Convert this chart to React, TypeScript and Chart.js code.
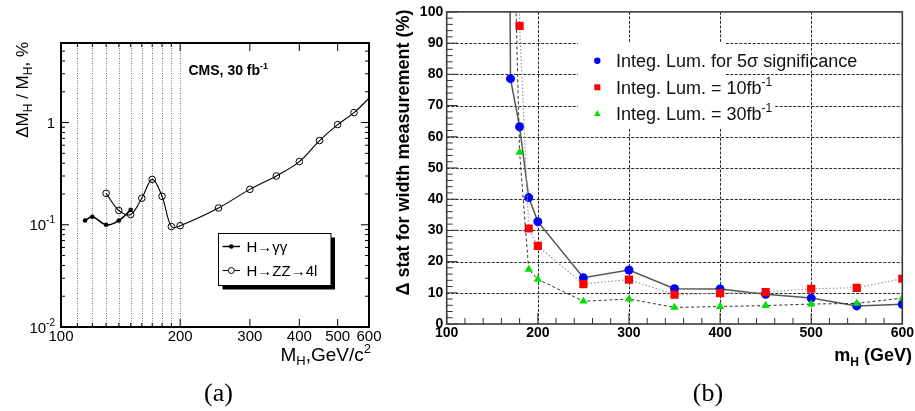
import { useEffect, useRef } from 'react';
import { Chart, registerables } from 'chart.js';
Chart.register(...registerables);

const FONT = '"Liberation Sans", Arial, Helvetica, sans-serif';
const SERIF = '"Liberation Serif", "Times New Roman", serif';

// ---------- Panel (a): mass resolution, log-log ----------
const A_GG_MASS = [115, 120, 130, 140, 150];
const A_GG_RES = [0.11, 0.12, 0.1, 0.11, 0.14];
const A_ZZ_MASS = [130, 140, 150, 160, 170, 180, 190, 200, 250, 300, 350, 400, 450, 500, 550, 600];
const A_ZZ_RES = [0.203, 0.138, 0.126, 0.182, 0.278, 0.19, 0.096, 0.098, 0.146, 0.222, 0.3, 0.415, 0.667, 0.955, 1.25, 1.73];
const A_X_TICKS = [100, 200, 300, 400, 500, 600];
const A_Y_TICKS = [0.01, 0.1, 1];
const A_Y_LABELS = [['10', '-2'], ['10', '-1'], ['1', '']];
const A_MASS_LINES = [110, 120, 130, 140, 150, 160, 170, 180, 190, 200];

// ---------- Panel (b): width measurement ----------
const B_X_TICKS = [100, 200, 300, 400, 500, 600];
const B_X_GRID = [200, 300, 400, 500];
const B_Y_GRID = [10, 20, 30, 40, 50, 60, 70, 80, 90];
const B_5SIG_MASS = [160, 170, 180, 190, 200, 250, 300, 350, 400, 450, 500, 550, 600];
const B_5SIG_VAL = [600, 78.6, 63.2, 40.5, 32.8, 14.8, 17.3, 11.3, 11.2, 9.5, 8.3, 5.8, 6.3];
const B_10FB_MASS = [170, 180, 190, 200, 250, 300, 350, 400, 450, 500, 550, 600];
const B_10FB_VAL = [1500, 95.5, 30.6, 25.0, 12.8, 14.2, 9.4, 9.9, 10.2, 11.3, 11.6, 14.5];
const B_30FB_MASS = [170, 180, 190, 200, 250, 300, 350, 400, 450, 500, 550, 600];
const B_30FB_VAL = [170, 55.0, 17.5, 14.3, 7.3, 8.0, 5.3, 5.6, 5.9, 6.4, 6.6, 8.3];

const BLUE = 'rgb(0,0,255)';
const RED = 'rgb(255,0,0)';
const GREEN = 'rgb(0,225,0)';

const zip = (xs: number[], ys: number[]) => xs.map((x, i) => ({ x, y: ys[i] }));

type Part = { t: string; f: string; dy?: number };
function drawRich(ctx: CanvasRenderingContext2D, parts: Part[], x: number, y: number, align: 'left' | 'right' | 'center') {
  let w = 0;
  for (const p of parts) { ctx.font = p.f; w += ctx.measureText(p.t).width; }
  let cx = align === 'left' ? x : align === 'right' ? x - w : x - w / 2;
  ctx.textAlign = 'left';
  ctx.textBaseline = 'alphabetic';
  for (const p of parts) {
    ctx.font = p.f;
    ctx.fillText(p.t, cx, y + (p.dy || 0));
    cx += ctx.measureText(p.t).width;
  }
}
function line(ctx: CanvasRenderingContext2D, x1: number, y1: number, x2: number, y2: number) {
  ctx.beginPath(); ctx.moveTo(x1, y1); ctx.lineTo(x2, y2); ctx.stroke();
}

const panelAPlugin = {
  id: 'panelA',
  beforeDatasetsDraw(chart: any) {
    const { ctx, chartArea: ca, scales } = chart;
    ctx.save();
    ctx.strokeStyle = '#777';
    ctx.lineWidth = 1;
    ctx.setLineDash([1, 1.5]);
    for (const v of A_MASS_LINES) {
      const px = Math.round(scales.x.getPixelForValue(v)) + 0.5;
      line(ctx, px, ca.top, px, ca.bottom);
    }
    ctx.restore();
  },
  afterDatasetsDraw(chart: any) {
    const { ctx, chartArea: ca, scales } = chart;
    const xs = scales.x, ys = scales.y;
    ctx.save();
    ctx.fillStyle = '#000';
    ctx.strokeStyle = '#000';
    ctx.lineWidth = 1;
    for (let k = -2; k <= 0; k++) {
      for (let m = 1; m <= 9; m++) {
        const v = m * Math.pow(10, k);
        if (v > 6.01) break;
        const py = ys.getPixelForValue(v);
        const len = m === 1 ? 8 : 4;
        line(ctx, ca.left, py, ca.left + len, py);
        line(ctx, ca.right - len, py, ca.right, py);
      }
    }
    for (const v of [110, 120, 130, 140, 150, 160, 170, 180, 190, 200, 300, 400, 500]) {
      const px = xs.getPixelForValue(v);
      const len = v % 100 === 0 ? 8 : 4;
      line(ctx, px, ca.bottom, px, ca.bottom - len);
      line(ctx, px, ca.top, px, ca.top + len);
    }
    ctx.lineWidth = 2;
    ctx.strokeRect(ca.left, ca.top, ca.right - ca.left, ca.bottom - ca.top);
    A_Y_TICKS.forEach((v, i) => {
      const py = ys.getPixelForValue(v);
      const [base, sup] = A_Y_LABELS[i];
      const parts: Part[] = [{ t: base, f: `15px ${FONT}` }];
      if (sup) parts.push({ t: sup, f: `10px ${FONT}`, dy: -7 });
      drawRich(ctx, parts, 55, py + 5.5, 'right');
    });
    drawRich(ctx, [{ t: 'CMS, 30 fb', f: `bold 14px ${FONT}` }, { t: '-1', f: `bold 9px ${FONT}`, dy: -6 }], 188.5, 75, 'left');
    const lx = 218.5, ly = 233.5, lw = 112.5, lh = 52;
    ctx.fillStyle = '#000';
    ctx.fillRect(lx + 4, ly + 4, lw, lh);
    ctx.fillStyle = '#fff';
    ctx.fillRect(lx, ly, lw, lh);
    ctx.lineWidth = 1;
    ctx.strokeStyle = '#000';
    ctx.strokeRect(lx, ly, lw, lh);
    ctx.fillStyle = '#000';
    const rows = [246.5, 270.5];
    ctx.lineWidth = 1.4;
    line(ctx, 222.5, rows[0], 240, rows[0]);
    ctx.beginPath(); ctx.arc(231.3, rows[0], 2.3, 0, Math.PI * 2); ctx.fill();
    ctx.lineWidth = 1;
    line(ctx, 222.5, rows[1], 240, rows[1]);
    ctx.fillStyle = '#fff';
    ctx.beginPath(); ctx.arc(231.3, rows[1], 3, 0, Math.PI * 2); ctx.fill(); ctx.stroke();
    ctx.fillStyle = '#000';
    drawRich(ctx, [{ t: 'H\u2192\u03b3\u03b3', f: `15px ${FONT}` }], 246.5, rows[0] + 5.5, 'left');
    drawRich(ctx, [{ t: 'H\u2192ZZ\u21924l', f: `15px ${FONT}` }], 246.5, rows[1] + 5.5, 'left');
    drawRich(ctx, [
      { t: 'M', f: `19px ${FONT}` }, { t: 'H', f: `13px ${FONT}`, dy: 4 },
      { t: ',GeV/c', f: `19px ${FONT}` }, { t: '2', f: `13px ${FONT}`, dy: -8 },
    ], 371, 361, 'right');
    ctx.save();
    ctx.translate(27.5, 42);
    ctx.rotate(-Math.PI / 2);
    drawRich(ctx, [
      { t: '\u0394M', f: `17px ${FONT}` }, { t: 'H', f: `12px ${FONT}`, dy: 4 },
      { t: ' / M', f: `17px ${FONT}` }, { t: 'H', f: `12px ${FONT}`, dy: 4 },
      { t: ', %', f: `17px ${FONT}` },
    ], 0, 0, 'right');
    ctx.restore();
    drawRich(ctx, [{ t: '(a)', f: `26px ${SERIF}` }], 218.5, 401, 'center');
    ctx.restore();
  },
};

const panelBPlugin = {
  id: 'panelB',
  beforeDatasetsDraw(chart: any) {
    const { ctx, chartArea: ca, scales } = chart;
    ctx.save();
    ctx.strokeStyle = '#2a2a2a';
    ctx.lineWidth = 1;
    ctx.setLineDash([3, 1.5]);
    for (const v of B_X_GRID) {
      const px = Math.round(scales.x.getPixelForValue(v)) + 0.5;
      line(ctx, px, ca.top, px, ca.bottom);
    }
    for (const v of B_Y_GRID) {
      const py = Math.round(scales.y.getPixelForValue(v)) + 0.5;
      line(ctx, ca.left, py, ca.right, py);
    }
    ctx.setLineDash([]);
    ctx.fillStyle = '#fff';
    ctx.fillRect(578 - 380, 42, 148, 86);
    ctx.fillRect(726 - 380, 97, 48, 12);
    ctx.restore();
  },
  afterDatasetsDraw(chart: any) {
    const { ctx, chartArea: ca, scales } = chart;
    const xs = scales.x, ys = scales.y;
    ctx.save();
    ctx.strokeStyle = '#333';
    ctx.lineWidth = 1;
    for (let v = 0; v <= 100; v += 2) {
      const py = ys.getPixelForValue(v);
      const len = v % 10 === 0 ? 11 : 6;
      line(ctx, ca.left, py, ca.left + len, py);
    }
    for (let v = 100; v <= 600; v += 20) {
      const px = xs.getPixelForValue(v);
      const len = v % 100 === 0 ? 11 : 6;
      line(ctx, px, ca.bottom, px, ca.bottom - len);
    }
    ctx.lineWidth = 1.6;
    ctx.strokeStyle = '#3a3a3a';
    ctx.strokeRect(ca.left, ca.top, ca.right - ca.left, ca.bottom - ca.top);
    const ox = -380;
    const mx = 597.3 + ox;
    const rows = [60.7, 87.3, 113.5];
    ctx.fillStyle = BLUE;
    ctx.beginPath(); ctx.arc(mx, rows[0], 3.2, 0, Math.PI * 2); ctx.fill();
    ctx.fillStyle = RED;
    ctx.fillRect(mx - 3, rows[1] - 3, 6, 6);
    ctx.fillStyle = GREEN;
    ctx.beginPath(); ctx.moveTo(mx, rows[2] - 3.5); ctx.lineTo(mx + 3.3, rows[2] + 2.5); ctx.lineTo(mx - 3.3, rows[2] + 2.5); ctx.closePath(); ctx.fill();
    ctx.fillStyle = '#111';
    const tx = 616 + ox;
    drawRich(ctx, [{ t: 'Integ. Lum. for 5\u03c3 significance', f: `18px ${FONT}` }], tx, rows[0] + 6.5, 'left');
    drawRich(ctx, [{ t: 'Integ. Lum. = 10fb', f: `18px ${FONT}` }, { t: '-1', f: `12px ${FONT}`, dy: -8 }], tx, rows[1] + 6.5, 'left');
    drawRich(ctx, [{ t: 'Integ. Lum. = 30fb', f: `18px ${FONT}` }, { t: '-1', f: `12px ${FONT}`, dy: -8 }], tx, rows[2] + 6.5, 'left');
    ctx.fillStyle = '#000';
    drawRich(ctx, [
      { t: 'm', f: `bold 18px ${FONT}` }, { t: 'H', f: `bold 12px ${FONT}`, dy: 5 },
      { t: ' (GeV)', f: `bold 18px ${FONT}` },
    ], 912 + ox, 361, 'right');
    ctx.save();
    ctx.translate(409 + ox, 9.5);
    ctx.rotate(-Math.PI / 2);
    drawRich(ctx, [{ t: '\u0394 stat for width measurement (%)', f: `bold 18px ${FONT}` }], 0, 0, 'right');
    ctx.restore();
    drawRich(ctx, [{ t: '(b)', f: `26px ${SERIF}` }], 708 + ox, 401, 'center');
    ctx.restore();
  },
};

function PanelA() {
  const ref = useRef<HTMLCanvasElement>(null);
  useEffect(() => {
    const chart = new Chart(ref.current as HTMLCanvasElement, {
      type: 'scatter',
      data: {
        datasets: [
          {
            label: 'H\u2192\u03b3\u03b3', data: zip(A_GG_MASS, A_GG_RES), showLine: true, tension: 0.35,
            borderColor: '#000', borderWidth: 1.5, pointRadius: 2.3, pointBackgroundColor: '#000', pointBorderColor: '#000', pointBorderWidth: 0,
          },
          {
            label: 'H\u2192ZZ\u21924l', data: zip(A_ZZ_MASS, A_ZZ_RES), showLine: true, tension: 0.35,
            borderColor: '#000', borderWidth: 1.1,
            pointRadius: (c: any) => (c.dataIndex === A_ZZ_MASS.length - 1 ? 0 : 3.3),
            pointBackgroundColor: 'rgba(0,0,0,0)', pointBorderColor: '#000', pointBorderWidth: 1,
          },
        ],
      } as any,
      options: {
        animation: false, responsive: false, events: [],
        layout: { padding: { left: 0, right: 31, top: 43, bottom: 0 } },
        plugins: { legend: { display: false }, tooltip: { enabled: false } },
        scales: {
          x: {
            type: 'logarithmic', min: 100, max: 600,
            afterBuildTicks: (s: any) => { s.ticks = A_X_TICKS.map((v) => ({ value: v })); },
            afterFit: (s: any) => { s.height = 84; },
            grid: { display: false, drawTicks: false, tickLength: 0 }, border: { display: false },
            ticks: { autoSkip: false, maxRotation: 0, padding: 1, color: '#000', font: { family: FONT, size: 15 }, callback: (v: any) => String(v) },
          },
          y: {
            type: 'logarithmic', min: 0.01, max: 6,
            afterFit: (s: any) => { s.width = 61; },
            grid: { display: false, drawTicks: false, tickLength: 0 }, border: { display: false }, ticks: { display: false },
          },
        },
      } as any,
      plugins: [panelAPlugin],
    });
    return () => chart.destroy();
  }, []);
  return <canvas ref={ref} width={400} height={411} style={{ position: 'absolute', left: 0, top: 0, width: 400, height: 411 }} />;
}

function PanelB() {
  const ref = useRef<HTMLCanvasElement>(null);
  useEffect(() => {
    const chart = new Chart(ref.current as HTMLCanvasElement, {
      type: 'scatter',
      data: {
        datasets: [
          {
            label: 'Integ. Lum. = 30fb-1', data: zip(B_30FB_MASS, B_30FB_VAL), showLine: true,
            borderColor: '#333', borderWidth: 1, borderDash: [3, 2.5], pointStyle: 'triangle', pointRadius: 4.8,
            pointBackgroundColor: GREEN, pointBorderColor: GREEN, pointBorderWidth: 0,
          },
          {
            label: 'Integ. Lum. = 10fb-1', data: zip(B_10FB_MASS, B_10FB_VAL), showLine: true,
            borderColor: '#999', borderWidth: 1.2, borderDash: [1.5, 2], pointStyle: 'rect', pointRadius: 5.8,
            pointBackgroundColor: RED, pointBorderColor: RED, pointBorderWidth: 0,
          },
          {
            label: 'Integ. Lum. for 5 sigma', data: zip(B_5SIG_MASS, B_5SIG_VAL), showLine: true,
            borderColor: '#555', borderWidth: 1.5, pointStyle: 'circle', pointRadius: 4.5,
            pointBackgroundColor: BLUE, pointBorderColor: BLUE, pointBorderWidth: 0,
          },
        ],
      } as any,
      options: {
        animation: false, responsive: false, events: [],
        layout: { padding: { left: 0, right: 11, top: 9.5, bottom: 0 } },
        plugins: { legend: { display: false }, tooltip: { enabled: false } },
        scales: {
          x: {
            type: 'linear', min: 100, max: 600,
            afterBuildTicks: (s: any) => { s.ticks = B_X_TICKS.map((v) => ({ value: v })); },
            afterFit: (s: any) => { s.height = 87; },
            grid: { display: false, drawTicks: false, tickLength: 0 }, border: { display: false },
            ticks: { autoSkip: false, maxRotation: 0, padding: 1, color: '#000', font: { family: FONT, size: 14, weight: 'bold' } },
          },
          y: {
            type: 'linear', min: 0, max: 100,
            afterFit: (s: any) => { s.width = 66.7; },
            grid: { display: false, drawTicks: false, tickLength: 0 }, border: { display: false },
            ticks: { stepSize: 10, padding: 3.5, color: '#000', font: { family: FONT, size: 14, weight: 'bold' } },
          },
        },
      } as any,
      plugins: [panelBPlugin],
    });
    return () => chart.destroy();
  }, []);
  return <canvas ref={ref} width={535} height={411} style={{ position: 'absolute', left: 380, top: 0, width: 535, height: 411 }} />;
}

export default function App() {
  return (
    <div style={{ position: 'absolute', left: 0, top: 0, width: 915, height: 411, background: '#fff', overflow: 'hidden' }}>
      <PanelA />
      <PanelB />
    </div>
  );
}
